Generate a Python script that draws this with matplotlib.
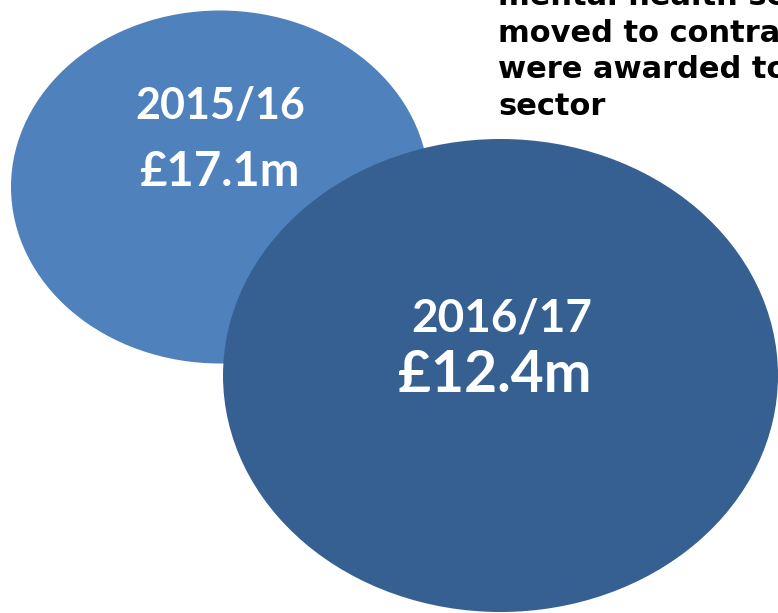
import matplotlib
matplotlib.use("Agg")
import matplotlib.pyplot as plt
from matplotlib.patches import Ellipse

# data
years = ['2015/16', '2016/17']
spend_m = [17.1, 12.4]
bubble_colors = ['#4F81BD', '#366092']
note_lines = ['mental health services', 'moved to contracts that',
              'were awarded to the private', 'sector']

W, H = 778, 613
fig = plt.figure(figsize=(W / 100, H / 100), dpi=100)
ax = fig.add_axes([0, 0, 1, 1])
ax.set_xlim(0, W)
ax.set_ylim(H, 0)
ax.axis('off')

# bubble geometry in pixel units (centre x, centre y, width, height)
geom = [(220, 187, 418, 353), (500.5, 375.5, 555, 473)]

for (cx, cy, w, h), col in zip(geom, bubble_colors):
    ax.add_patch(Ellipse((cx, cy), w, h, facecolor=col, edgecolor='none'))

# labels in first bubble
ax.text(220, 106, years[0], ha='center', va='center', color='white',
        fontsize=31, fontweight='bold', family='Lato')
ax.text(219, 172, '£' + str(spend_m[0]) + 'm', ha='center', va='center', color='white',
        fontsize=34, fontweight='bold', family='Lato')

# labels in second bubble
ax.text(502, 319, years[1], ha='center', va='center', color='white',
        fontsize=33, fontweight='bold', family='Lato')
ax.text(495, 376, '£' + str(spend_m[1]) + 'm', ha='center', va='center', color='white',
        fontsize=41, fontweight='bold', family='Lato')

# note text top right (runs off the edge, as in the original)
for i, line in enumerate(note_lines):
    ax.text(498, 5 + i * 36.7, line, ha='left', va='baseline', color='black',
            fontsize=22, fontweight='bold', family='DejaVu Sans', clip_on=False)

fig.savefig('out.png', dpi=100)
